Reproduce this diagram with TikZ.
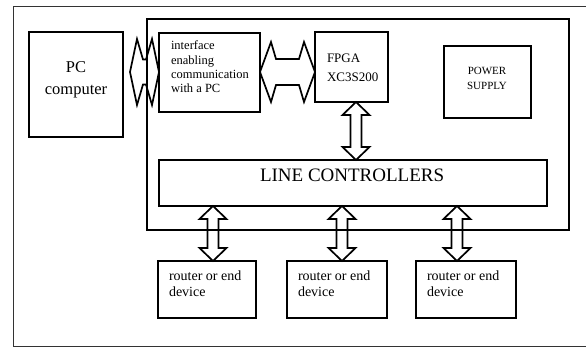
\documentclass[tikz,border=0pt]{standalone}
\usepackage{fontspec}
\setmainfont{Liberation Serif}
\usetikzlibrary{calc}
\tikzset{
  box/.style={draw=black, line width=1.9pt, inner sep=0pt, outer sep=0pt},
  blk/.style={draw=black, line width=1.7pt, line join=miter},
  frame/.style={draw=black!80, line width=1pt},
  txt/.style={inner sep=0pt, outer sep=0pt},
}
% horizontal double block arrow: #1 left anchor, #2 right anchor, #3 y, #4 head length, #5 back sweep, #6 head half width, #7 shaft half width
\newcommand\hdarr[7]{%
\draw[blk] let \p1=(#1), \p2=(#2) in
 (\x1,#3) -- (\x1+#4,#3+#6) -- (\x1+#4+#5,#3+#7) -- (\x2-#4-#5,#3+#7) -- (\x2-#4,#3+#6) -- (\x2,#3)
 -- (\x2-#4,#3-#6) -- (\x2-#4-#5,#3-#7) -- (\x1+#4+#5,#3-#7) -- (\x1+#4,#3-#6) -- cycle;}
% vertical double block arrow: #1 x, #2 top anchor, #3 bottom anchor
\newcommand\vdarr[3]{%
\draw[blk] let \p1=(#2), \p2=(#3) in
 (#1,\y1) -- (#1+13.5pt,\y1-13pt) -- (#1+5.5pt,\y1-13pt) -- (#1+5.5pt,\y2+13pt) -- (#1+13.5pt,\y2+13pt) -- (#1,\y2)
 -- (#1-13.5pt,\y2+13pt) -- (#1-5.5pt,\y2+13pt) -- (#1-5.5pt,\y1-13pt) -- (#1-13.5pt,\y1-13pt) -- cycle;}
\begin{document}
\begin{tikzpicture}[x=1pt,y=-1pt]
\useasboundingbox (0,0) rectangle (586,347);
\fill[white] (0,0) rectangle (586,347);
% outer frame
\draw[frame] (586,7) -- (13,7) -- (13,346) -- (586,346);
% boxes
\node[box, minimum width=422, minimum height=211] (big) at (358,124.5) {};
\node[box, minimum width=94, minimum height=105] (pc) at (76,84.5) {};
\node[box, minimum width=101, minimum height=79] (iface) at (209.5,72.5) {};
\node[box, minimum width=73, minimum height=70] (fpga) at (351.5,67) {};
\node[box, minimum width=87, minimum height=72] (power) at (487.5,82) {};
\node[box, minimum width=388, minimum height=46] (lc) at (353,183) {};
\node[box, minimum width=98, minimum height=57] (r1) at (207,289.5) {};
\node[box, minimum width=100, minimum height=57] (r2) at (337,289.5) {};
\node[box, minimum width=100, minimum height=57] (r3) at (466,289.5) {};
% texts (base anchor = baseline of last line)
\node[txt, anchor=base, align=center, font=\fontsize{16.5}{22}\selectfont] (pct) at (76,95) {PC\\computer};
\node[txt, anchor=base west, align=left, font=\fontsize{12.5}{14.2}\selectfont] (ifacet) at (171,92.6) {interface\\enabling\\communication\\with a PC};
\node[txt, anchor=base west, align=left, font=\fontsize{13}{18.5}\selectfont] (fpgat) at (327,81.5) {FPGA\\XC3S200};
\node[txt, anchor=base, align=center, font=\fontsize{11}{15}\selectfont] (powert) at (487,90) {POWER\\SUPPLY};
\node[txt, anchor=base west, font=\fontsize{19}{22}\selectfont] (lct) at (260,182) {LINE CONTROLLERS};
\node[txt, anchor=base west, align=left, font=\fontsize{14}{17}\selectfont] (r1t) at (169,297) {router or end\\device};
\node[txt, anchor=base west, align=left, font=\fontsize{14}{17}\selectfont] (r2t) at (298,297) {router or end\\device};
\node[txt, anchor=base west, align=left, font=\fontsize{14}{17}\selectfont] (r3t) at (427,297) {router or end\\device};
% arrows
\hdarr{[xshift=7pt]pc.east}{iface.west}{-72pt}{7pt}{6pt}{33pt}{12.5pt}
\hdarr{iface.east}{fpga.west}{-72pt}{11pt}{5pt}{30pt}{13pt}
\vdarr{356pt}{fpga.south}{lc.north}
\vdarr{213pt}{lc.south}{r1.north}
\vdarr{342pt}{lc.south}{r2.north}
\vdarr{457pt}{lc.south}{r3.north}
\end{tikzpicture}
\end{document}
